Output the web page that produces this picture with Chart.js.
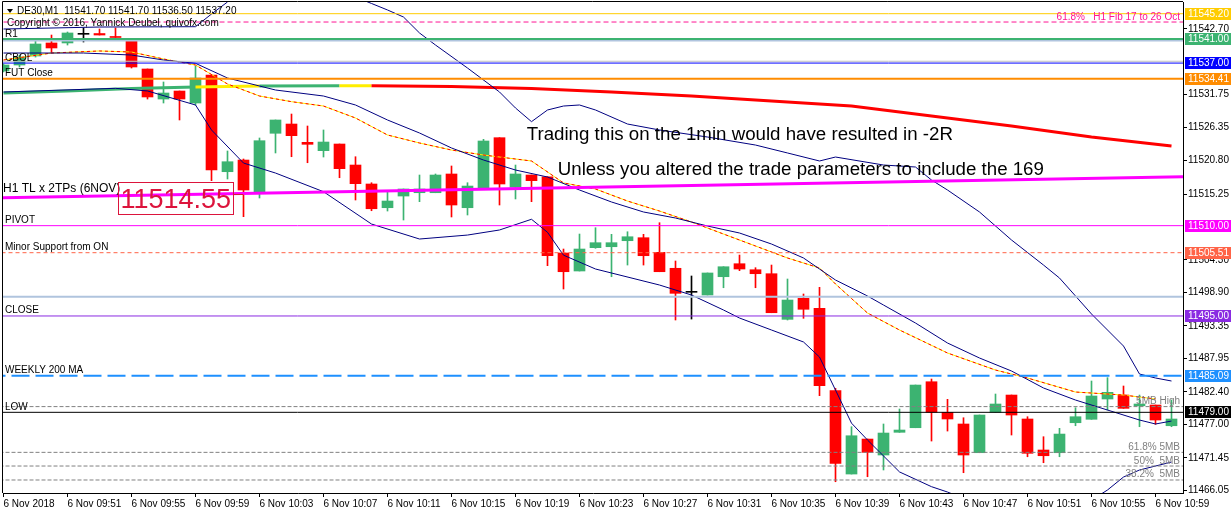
<!DOCTYPE html>
<html lang="en">
<head>
<meta charset="UTF-8">
<title>DE30,M1</title>
<script src="https://cdn.jsdelivr.net/npm/chart.js"></script>
<style>
    html, body { margin: 0; padding: 0; background: #fff; }
    #chart { display: block; }
</style>
</head>
<body>
<canvas id="chart" width="1231" height="514"></canvas>
<script>
// one bar per minute, bar 0 = 6 Nov 09:47
const openPrices = [
    11535.69, 11536.68, 11538.18, 11540.34, 11540.34, 11541.78, 11541.91, 11541.42, 11540.67, 11536.02,
    11531.03, 11532.36, 11530.37, 11535.02, 11518.96, 11520.90, 11515.37, 11525.34, 11526.88, 11523.84,
    11522.45, 11523.56, 11520.07, 11516.92, 11512.98, 11514.92, 11515.47, 11515.47, 11518.58, 11512.98,
    11516.20, 11524.61, 11516.37, 11518.41, 11518.13, 11505.46, 11502.47, 11506.34, 11506.50, 11507.50,
    11508.00, 11505.57, 11502.92, 11498.93, 11498.48, 11501.52, 11503.68, 11502.68, 11502.02, 11494.44,
    11497.93, 11496.27, 11482.59, 11468.75, 11474.56, 11471.91, 11475.68, 11476.44, 11484.08, 11479.00,
    11477.06, 11472.29, 11479.00, 11481.87, 11477.89, 11472.74, 11472.29, 11477.27, 11477.84, 11481.21,
    11481.87, 11480.09, 11480.21, 11476.77
];
const highPrices = [
    11536.85, 11538.34, 11540.67, 11541.66, 11542.16, 11542.83, 11542.66, 11542.83, 11540.67, 11536.02,
    11533.86, 11532.36, 11536.52, 11535.02, 11522.40, 11521.07, 11524.56, 11527.55, 11528.54, 11526.55,
    11525.89, 11523.56, 11521.45, 11517.13, 11515.64, 11516.09, 11518.41, 11518.58, 11519.91, 11517.13,
    11524.34, 11524.61, 11520.07, 11518.41, 11518.13, 11506.12, 11508.61, 11509.66, 11508.56, 11508.99,
    11508.56, 11510.49, 11504.13, 11501.64, 11502.14, 11503.18, 11505.12, 11503.02, 11503.46, 11501.14,
    11498.65, 11499.76, 11482.99, 11476.61, 11474.56, 11477.06, 11479.55, 11483.53, 11484.53, 11481.16,
    11478.10, 11478.55, 11482.04, 11481.87, 11478.27, 11474.95, 11476.34, 11479.76, 11484.20, 11484.75,
    11483.37, 11481.87, 11480.21, 11481.04
];
const lowPrices = [
    11535.52, 11536.35, 11538.00, 11538.67, 11540.00, 11540.50, 11541.66, 11541.25, 11536.18, 11531.03,
    11530.37, 11527.55, 11530.04, 11517.47, 11517.75, 11511.49, 11514.59, 11522.07, 11521.45, 11520.45,
    11521.40, 11517.96, 11514.26, 11512.48, 11512.43, 11510.94, 11513.98, 11515.47, 11511.44, 11511.77,
    11516.20, 11513.43, 11514.43, 11513.98, 11503.35, 11499.48, 11502.47, 11506.24, 11501.52, 11503.46,
    11503.46, 11502.35, 11494.33, 11494.49, 11498.48, 11499.69, 11502.52, 11499.69, 11495.54, 11494.33,
    11494.61, 11481.76, 11467.47, 11468.75, 11468.30, 11469.42, 11475.68, 11476.44, 11474.23, 11475.89,
    11468.97, 11472.29, 11479.00, 11475.23, 11471.62, 11470.63, 11471.62, 11476.77, 11477.84, 11479.38,
    11479.66, 11476.61, 11477.00, 11476.61
];
const closePrices = [
    11536.68, 11538.01, 11540.17, 11539.51, 11542.00, 11541.78, 11541.66, 11541.25, 11536.35, 11531.37,
    11532.03, 11531.03, 11534.52, 11519.24, 11520.62, 11515.92, 11524.11, 11527.55, 11524.94, 11523.51,
    11523.89, 11519.46, 11516.97, 11512.81, 11514.09, 11516.09, 11516.09, 11518.41, 11513.43, 11516.58,
    11524.06, 11516.92, 11518.58, 11517.47, 11505.01, 11502.35, 11506.12, 11507.17, 11507.17, 11508.16,
    11505.01, 11502.35, 11498.76, 11498.93, 11502.14, 11503.18, 11502.80, 11502.02, 11495.54, 11497.65,
    11496.11, 11483.42, 11470.53, 11475.11, 11472.35, 11475.56, 11476.06, 11483.53, 11479.00, 11477.89,
    11471.91, 11478.55, 11480.38, 11478.55, 11472.19, 11471.79, 11475.39, 11478.27, 11481.71, 11482.32,
    11479.66, 11480.38, 11477.72, 11477.89
];

// time axis labels, one every 4 bars
const timeTickBars = [0, 4, 8, 12, 16, 20, 24, 28, 32, 36, 40, 44, 48, 52, 56, 60, 64, 68, 72];
const timeLabels = ['6 Nov 2018', '6 Nov 09:51', '6 Nov 09:55', '6 Nov 09:59', '6 Nov 10:03', '6 Nov 10:07',
    '6 Nov 10:11', '6 Nov 10:15', '6 Nov 10:19', '6 Nov 10:23', '6 Nov 10:27', '6 Nov 10:31', '6 Nov 10:35',
    '6 Nov 10:39', '6 Nov 10:43', '6 Nov 10:47', '6 Nov 10:51', '6 Nov 10:55', '6 Nov 10:59'];

const priceTicks = [11542.70, 11531.75, 11526.35, 11520.80, 11515.25, 11504.30, 11498.90, 11493.35,
    11487.95, 11482.40, 11477.00, 11471.45, 11466.05];

// indicator lines: [bar, price]
const upperBand = [[0, 11542.66], [6, 11542.99], [12, 11543.04], [13, 11545.15], [14, 11547.15], [15, 11550.8],
    [18, 11554.9], [21, 11550.8], [22, 11547.98], [23, 11546.9], [24, 11545.82], [25, 11544.65], [26, 11542.0],
    [27, 11540.0], [29, 11536.18], [31, 11532.2], [32, 11529.54], [33, 11527.27], [34, 11529.21], [35, 11529.87],
    [36, 11530.04], [37, 11529.21], [39, 11526.88], [41, 11525.89], [44, 11524.72], [47, 11523.39], [49, 11522.07],
    [51, 11520.74], [52, 11521.40], [55, 11520.07], [57, 11519.74], [58, 11517.58], [59, 11515.92], [61, 11512.27],
    [63, 11507.62], [65, 11503.46], [66, 11501.30], [67, 11498.32], [68, 11495.33], [69, 11492.67], [70, 11490.01],
    [71, 11485.36], [72, 11484.70], [73, 11484.2]];
const middleBand = [[0, 11538.67], [5, 11538.67], [8, 11538.34], [10, 11537.51], [12, 11536.96], [14, 11534.52],
    [17, 11532.53], [20, 11531.53], [22, 11530.04], [24, 11527.55], [26, 11525.39], [28, 11522.90], [30, 11520.90],
    [32, 11519.24], [34, 11518.08], [36, 11515.92], [38, 11513.93], [40, 11512.27], [42, 11511.27], [44, 11509.94],
    [46, 11508.78], [48, 11506.95], [50, 11504.63], [51, 11502.80], [52, 11500.97], [54, 11498.32], [55, 11496.82],
    [57, 11493.83], [59, 11490.51], [61, 11488.02], [63, 11485.86], [65, 11483.04], [67, 11481.04], [69, 11479.38],
    [71, 11477.72], [72, 11477.06], [73, 11477.55]];
const lowerBand = [[0, 11532.2], [7, 11532.81], [9, 11532.37], [12, 11530.04], [13, 11525.89], [15, 11520.40],
    [17, 11518.74], [20, 11515.64], [23, 11510.27], [26, 11507.78], [29, 11508.44], [31, 11509.28], [33, 11511.06],
    [34, 11508.9], [35, 11505.1], [37, 11502.8], [41, 11500.14], [43, 11498.48], [45, 11495.99], [46, 11494.66],
    [48, 11492.67], [50, 11490.68], [51, 11488.18], [52, 11482.7], [53, 11477.2], [54, 11474.4], [56, 11469.1],
    [58, 11466.65], [59, 11465.76], [61, 11463.6], [66, 11462.8], [68, 11464.4], [69, 11466.1], [70, 11468.25],
    [71, 11469.42], [73, 11470.74]];
const fastMA = [[0, 11537.51], [3, 11538.67], [6, 11539.01], [8, 11538.84], [10, 11537.68], [12, 11536.68],
    [14, 11533.53], [16, 11531.53], [18, 11530.59], [20, 11529.87], [22, 11527.88], [24, 11525.06], [26, 11523.73],
    [28, 11522.56], [30, 11521.73], [33, 11520.74], [35, 11517.1], [37, 11516.09], [39, 11514.09], [41, 11512.43],
    [43, 11510.61], [45, 11508.61], [47, 11506.62], [49, 11504.63], [51, 11502.97], [52, 11500.31], [54, 11495.49],
    [56, 11492.67], [59, 11488.85], [62, 11486.02], [64, 11484.70], [67, 11482.37], [70, 11481.87], [72, 11481.21]];
const slowMA = [[0, 11532.03], [4, 11532.37], [8, 11532.78], [12, 11533.03], [16, 11533.20], [21, 11533.24],
    [23, 11533.24], [28, 11533.11], [33, 11532.78], [38, 11532.2], [43, 11531.53], [48, 11530.71], [53, 11529.87],
    [58, 11528.21], [63, 11526.55], [68, 11524.72], [73, 11523.23]];
const trendLine = [[-1, 11514.60], [75, 11518.20]];

// horizontal levels
const levelPrices = [11545.20, 11543.82, 11541.00, 11540.75, 11537.30, 11537.00, 11534.41, 11510.00, 11505.51,
    11498.20, 11495.00, 11485.09, 11479.95, 11479.00, 11472.35, 11470.08, 11467.76];
const levelNames = ['', '61.8%   H1 Fib 17 to 26 Oct', 'R1', '', '', 'CBOL', 'FUT Close', 'PIVOT',
    'Minor Support from ON', '', 'CLOSE', 'WEEKLY 200 MA', '5MB High', 'LOW', '61.8% 5MB', '50%  5MB', '38.2%  5MB'];

// price tags on the right axis
const tagPrices = [11545.20, 11541.00, 11537.00, 11534.41, 11510.00, 11505.51, 11495.00, 11485.09, 11479.00];

const headerText = 'DE30,M1  11541.70 11541.70 11536.50 11537.20';
const copyrightText = 'Copyright \u00a9 2016, Yannick Deubel, quivofx.com';
const noteTexts = ['Trading this on the 1min would have resulted in -2R',
    'Unless you altered the trade parameters to include the 169'];
const trendName = 'H1 TL x 2TPs (6NOV)';
const trendPrice = '11514.55';

// styles
const UP = '#3cb371', DOWN = '#ff0000', DOJI = '#000000', NAVY = '#000080';
const FONT = '"Liberation Sans", Arial, sans-serif';
const levelStyles = [
    { color: '#ffcc00', width: 1 },
    { color: '#ff1493', width: 1, dash: [5, 3], side: 'right' },
    { color: '#3cb371', width: 2, side: 'left' },
    { color: '#b0c4de', width: 2 },
    { color: '#c0c0c0', width: 1 },
    { color: '#0000ff', width: 1, side: 'left' },
    { color: '#ff8c00', width: 2, side: 'left' },
    { color: '#ff00ff', width: 1, side: 'left' },
    { color: '#ff6347', width: 1, dash: [4, 3], side: 'left' },
    { color: '#b0c4de', width: 2 },
    { color: '#8a2be2', width: 1, side: 'left' },
    { color: '#1e90ff', width: 2, dash: [18, 6], side: 'left' },
    { color: '#808080', width: 1, dash: [4, 2], side: 'right' },
    { color: '#000000', width: 1, side: 'left' },
    { color: '#808080', width: 1, dash: [4, 2], side: 'right' },
    { color: '#808080', width: 1, dash: [4, 2], side: 'right' },
    { color: '#808080', width: 1, dash: [4, 2], side: 'right' }
];
const tagColors = ['#ffcc00', '#3cb371', '#0000ff', '#ff8c00', '#ff00ff', '#ff6347', '#8a2be2', '#1e90ff', '#000000'];

function candleColor(i) {
    if (closePrices[i] > openPrices[i]) return UP;
    if (closePrices[i] < openPrices[i]) return DOWN;
    return DOJI;
}

function slowMAColor(x) {
    if (x < 12) return '#3cb371';
    if (x < 16) return '#ffee00';
    if (x < 21) return '#3cb371';
    if (x < 23) return '#ffee00';
    return '#ff0000';
}

const toPoints = arr => arr.map(p => ({ x: p[0], y: p[1] }));
const bars = openPrices.map((_, i) => i);

const datasets = [];

// levels on top of everything else
levelPrices.forEach((p, k) => {
    const st = levelStyles[k];
    datasets.push({
        type: 'line',
        data: [{ x: -1, y: p }, { x: 75, y: p }],
        borderColor: st.color,
        borderWidth: st.width,
        borderDash: st.dash || [],
        pointRadius: 0,
        clip: 0,
        order: 5
    });
});

datasets.push({
    type: 'line', data: toPoints(trendLine), borderColor: '#ff00ff', borderWidth: 3,
    pointRadius: 0, clip: 0, order: 6
});
datasets.push({
    type: 'line', data: toPoints(upperBand), borderColor: NAVY, borderWidth: 1,
    pointRadius: 0, clip: 0, order: 7
});
datasets.push({
    type: 'line', data: toPoints(middleBand), borderColor: NAVY, borderWidth: 1,
    pointRadius: 0, clip: 0, order: 7
});
datasets.push({
    type: 'line', data: toPoints(lowerBand), borderColor: NAVY, borderWidth: 1,
    pointRadius: 0, clip: 0, order: 7
});
datasets.push({
    type: 'line', data: toPoints(fastMA), borderColor: '#ff0000', borderWidth: 1, borderDash: [3, 3],
    pointRadius: 0, clip: 0, order: 8
});
datasets.push({
    type: 'line', data: toPoints(fastMA), borderColor: '#ffee00', borderWidth: 1,
    pointRadius: 0, clip: 0, order: 9
});
datasets.push({
    type: 'line', data: toPoints(slowMA), borderWidth: 3, borderColor: '#ff0000',
    segment: { borderColor: c => slowMAColor(c.p0.parsed.x) },
    pointRadius: 0, clip: 0, order: 10
});

// candles: bodies over wicks
datasets.push({
    type: 'bar',
    data: bars.map(i => ({ x: i, y: [openPrices[i], closePrices[i]] })),
    backgroundColor: c => candleColor(c.dataIndex),
    barThickness: 11, minBarLength: 1, grouped: false, borderWidth: 0,
    clip: 0, order: 20
});
datasets.push({
    type: 'bar',
    data: bars.map(i => ({ x: i, y: [lowPrices[i], highPrices[i]] })),
    backgroundColor: c => candleColor(c.dataIndex),
    barThickness: 1, grouped: false, borderWidth: 0,
    clip: 0, order: 21
});

const overlay = {
    id: 'overlay',
    afterDatasetsDraw(chart) {
        const { ctx, chartArea: a, scales: { x, y } } = chart;
        ctx.save();

        // frame on left and top
        ctx.strokeStyle = '#000';
        ctx.lineWidth = 1;
        ctx.beginPath();
        ctx.moveTo(a.left - 0.5, a.bottom);
        ctx.lineTo(a.left - 0.5, a.top - 0.5);
        ctx.lineTo(a.right, a.top - 0.5);
        ctx.stroke();

        // header
        ctx.fillStyle = '#000';
        ctx.beginPath();
        ctx.moveTo(7, 9); ctx.lineTo(13, 9); ctx.lineTo(10, 13); ctx.closePath();
        ctx.fill();
        ctx.font = '10px ' + FONT;
        ctx.textBaseline = 'alphabetic';
        ctx.textAlign = 'left';
        ctx.fillText(headerText, 17, 14);
        ctx.fillText(copyrightText, 7, 26);

        // level names
        levelPrices.forEach((p, k) => {
            const name = levelNames[k];
            const st = levelStyles[k];
            if (!name) return;
            const py = y.getPixelForValue(p);
            if (st.side === 'left') {
                ctx.fillStyle = '#000';
                ctx.textAlign = 'left';
                ctx.fillText(name, 5, py - 2.5);
            } else {
                ctx.fillStyle = st.color;
                ctx.textAlign = 'right';
                ctx.fillText(name, 1180, py - 2.5);
            }
        });

        // trendline description and price box
        ctx.textAlign = 'left';
        ctx.fillStyle = '#000';
        ctx.font = '12px ' + FONT;
        ctx.fillText(trendName, 3, y.getPixelForValue(11515.55));
        const bx0 = x.getPixelForValue(7.175), bx1 = x.getPixelForValue(14.36);
        const by0 = y.getPixelForValue(11517.20), by1 = y.getPixelForValue(11511.89);
        ctx.strokeStyle = '#dc143c';
        ctx.strokeRect(Math.round(bx0) + 0.5, Math.round(by0) + 0.5, Math.round(bx1 - bx0), Math.round(by1 - by0));
        ctx.beginPath();
        const ty = Math.round(y.getPixelForValue(11515.3)) + 0.5;
        ctx.moveTo(bx1, ty); ctx.lineTo(x.getPixelForValue(15), ty);
        ctx.stroke();
        ctx.fillStyle = '#dc143c';
        ctx.font = '27px ' + FONT;
        ctx.textAlign = 'center';
        ctx.fillText(trendPrice, (bx0 + bx1) / 2, y.getPixelForValue(11512.9));

        // notes
        ctx.fillStyle = '#000';
        ctx.textAlign = 'left';
        ctx.font = '18.7px ' + FONT;
        ctx.fillText(noteTexts[0], x.getPixelForValue(32.7), y.getPixelForValue(11524.23));
        ctx.fillText(noteTexts[1], x.getPixelForValue(34.64), y.getPixelForValue(11518.41));

        ctx.restore();
    },
    afterDraw(chart) {
        const { ctx, chartArea: a, scales: { y } } = chart;
        ctx.save();
        ctx.font = '10px ' + FONT;
        ctx.textAlign = 'left';
        ctx.textBaseline = 'middle';
        tagPrices.forEach((p, k) => {
            const py = Math.round(y.getPixelForValue(p));
            ctx.fillStyle = tagColors[k];
            ctx.fillRect(a.right + 2, py - 6, 46, 12);
            ctx.fillStyle = '#fff';
            ctx.fillText(p.toFixed(2), a.right + 5, py + 0.5);
        });
        ctx.restore();
    }
};

new Chart(document.getElementById('chart'), {
    type: 'line',
    data: { datasets: datasets },
    options: {
        responsive: false,
        animation: false,
        events: [],
        layout: { padding: { left: 3, top: 2, right: 0, bottom: 0 } },
        plugins: { legend: { display: false }, tooltip: { enabled: false } },
        scales: {
            x: {
                type: 'linear',
                min: -0.03125,
                max: 73.71875,
                offset: false,
                grid: { drawOnChartArea: false, offset: false, tickLength: 4, tickColor: '#000' },
                border: { display: true, color: '#000' },
                ticks: {
                    autoSkip: false, maxRotation: 0, minRotation: 0, align: 'start', padding: 1,
                    color: '#000', font: { family: FONT, size: 10 },
                    callback: (v, idx) => timeLabels[idx]
                },
                afterBuildTicks: s => { s.ticks = timeTickBars.map(v => ({ value: v })); },
                afterFit: s => { s.height = 21; s.paddingLeft = 0; s.paddingRight = 0; }
            },
            y: {
                type: 'linear',
                position: 'right',
                min: 11465.60,
                max: 11547.145,
                grid: { drawOnChartArea: false, tickLength: 4, tickColor: '#000' },
                border: { display: true, color: '#000' },
                ticks: {
                    autoSkip: false, padding: 1, color: '#000', font: { family: FONT, size: 10 },
                    callback: v => v.toFixed(2)
                },
                afterBuildTicks: s => { s.ticks = priceTicks.map(v => ({ value: v })); },
                afterFit: s => { s.width = 48; s.paddingTop = 0; s.paddingBottom = 0; }
            }
        }
    },
    plugins: [overlay]
});
</script>
</body>
</html>
